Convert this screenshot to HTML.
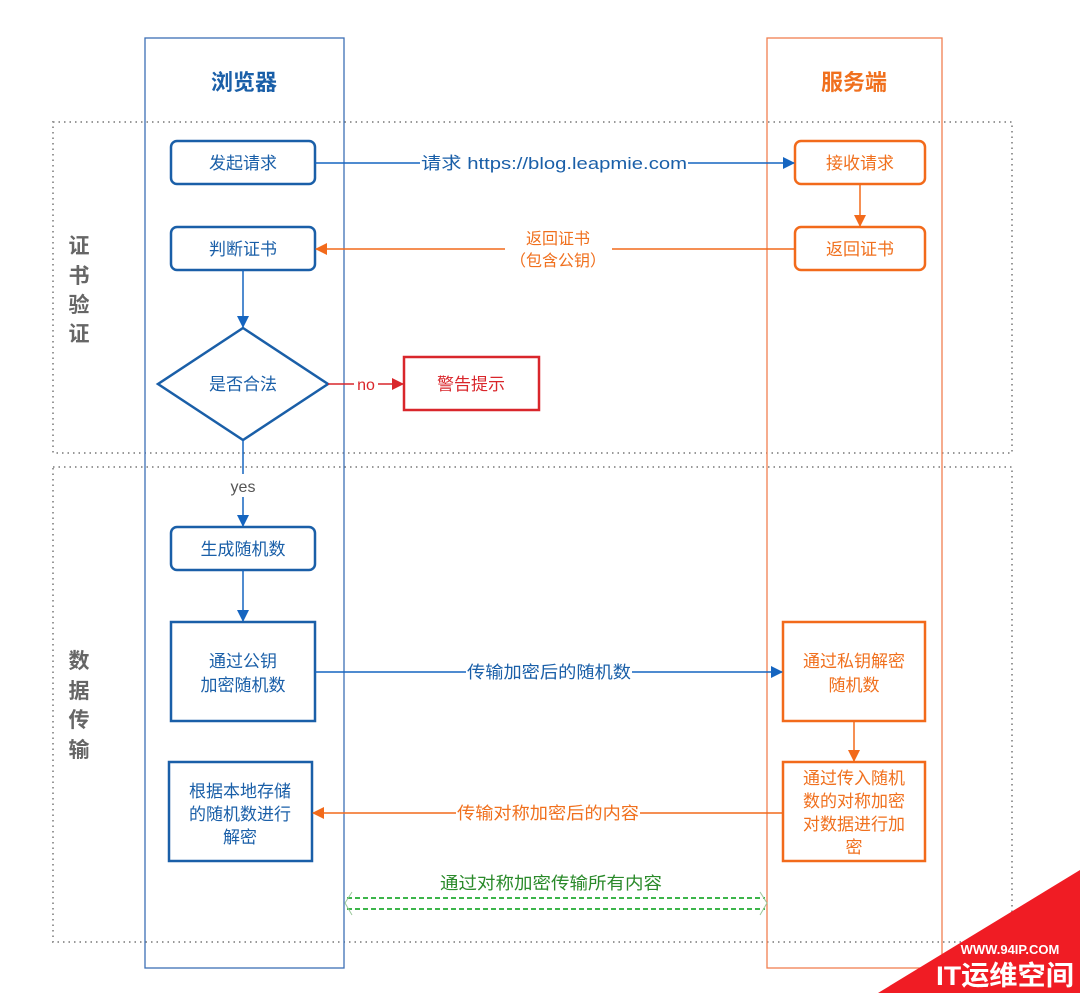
<!DOCTYPE html>
<html><head><meta charset="utf-8"><style>
html,body{margin:0;padding:0;background:#fff;}
svg{display:block;}
text{font-family:"Liberation Sans","Noto Sans CJK SC",sans-serif;}
</style></head><body>
<svg width="1080" height="993" viewBox="0 0 1080 993" xmlns="http://www.w3.org/2000/svg">
<defs>
<marker id="ab" markerWidth="12" markerHeight="12" refX="11" refY="6" orient="auto" markerUnits="userSpaceOnUse"><path d="M0,0 L12,6 L0,12 z" fill="#1565c0"/></marker>
<marker id="ao" markerWidth="12" markerHeight="12" refX="11" refY="6" orient="auto" markerUnits="userSpaceOnUse"><path d="M0,0 L12,6 L0,12 z" fill="#f26a1b"/></marker>
<marker id="ar" markerWidth="12" markerHeight="12" refX="11" refY="6" orient="auto" markerUnits="userSpaceOnUse"><path d="M0,0 L12,6 L0,12 z" fill="#d9262b"/></marker>
</defs>
<rect x="53" y="122" width="959" height="331" fill="none" stroke="#999" stroke-width="2" stroke-dasharray="1.5,4"/>
<rect x="53" y="467" width="959" height="475" fill="none" stroke="#999" stroke-width="2" stroke-dasharray="1.5,4"/>
<rect x="145" y="38" width="199" height="930" fill="none" stroke="#3d6fb5" stroke-width="1.3"/>
<rect x="767" y="38" width="175" height="930" fill="none" stroke="#f08050" stroke-width="1.3"/>
<text x="244" y="90" font-size="22" font-weight="bold" fill="#1a5fa8" text-anchor="middle">浏览器</text>
<text x="854" y="90" font-size="22" font-weight="bold" fill="#f0701e" text-anchor="middle">服务端</text>
<g font-size="21" font-weight="bold" fill="#666" text-anchor="middle">
<text x="79" y="253">证</text><text x="79" y="283">书</text><text x="79" y="312">验</text><text x="79" y="341">证</text>
<text x="79" y="668">数</text><text x="79" y="698">据</text><text x="79" y="727">传</text><text x="79" y="757">输</text>
</g>
<g fill="#fff" stroke="#1a5fa8" stroke-width="2.5">
<rect x="171" y="141" width="144" height="43" rx="6"/>
<rect x="171" y="227" width="144" height="43" rx="6"/>
<polygon points="243,328 328,384 243,440 158,384"/>
<rect x="171" y="527" width="144" height="43" rx="6"/>
<rect x="171" y="622" width="144" height="99"/>
<rect x="169" y="762" width="143" height="99"/>
</g>
<rect x="404" y="357" width="135" height="53" fill="#fff" stroke="#d9262b" stroke-width="2.5"/>
<g fill="#fff" stroke="#f26a1b" stroke-width="2.5">
<rect x="795" y="141" width="130" height="43" rx="6"/>
<rect x="795" y="227" width="130" height="43" rx="6"/>
<rect x="783" y="622" width="142" height="99"/>
<rect x="783" y="762" width="142" height="99"/>
</g>
<g font-size="17" fill="#1a5fa8" text-anchor="middle">
<text x="243" y="169">发起请求</text>
<text x="243" y="255">判断证书</text>
<text x="243" y="390">是否合法</text>
<text x="243" y="555">生成随机数</text>
<text x="243" y="667">通过公钥</text><text x="243" y="691">加密随机数</text>
<text x="240" y="797">根据本地存储</text><text x="240" y="820">的随机数进行</text><text x="240" y="843">解密</text>
</g>
<text x="471" y="390" font-size="17" fill="#d9262b" text-anchor="middle">警告提示</text>
<g font-size="17" fill="#f0701e" text-anchor="middle">
<text x="860" y="169">接收请求</text>
<text x="860" y="255">返回证书</text>
<text x="854" y="667">通过私钥解密</text><text x="854" y="691">随机数</text>
<text x="854" y="784">通过传入随机</text><text x="854" y="807">数的对称加密</text><text x="854" y="830">对数据进行加</text><text x="854" y="853">密</text>
</g>
<g stroke-width="1.5" fill="none">
<line x1="315" y1="163" x2="420" y2="163" stroke="#1565c0"/>
<line x1="688" y1="163" x2="794" y2="163" stroke="#1565c0" marker-end="url(#ab)"/>
<line x1="860" y1="184" x2="860" y2="226" stroke="#f26a1b" marker-end="url(#ao)"/>
<line x1="795" y1="249" x2="612" y2="249" stroke="#f26a1b"/>
<line x1="505" y1="249" x2="316" y2="249" stroke="#f26a1b" marker-end="url(#ao)"/>
<line x1="243" y1="270" x2="243" y2="327" stroke="#1565c0" marker-end="url(#ab)"/>
<line x1="328" y1="384" x2="354" y2="384" stroke="#d9262b"/>
<line x1="378" y1="384" x2="403" y2="384" stroke="#d9262b" marker-end="url(#ar)"/>
<line x1="243" y1="440" x2="243" y2="474" stroke="#1565c0"/>
<line x1="243" y1="497" x2="243" y2="526" stroke="#1565c0" marker-end="url(#ab)"/>
<line x1="243" y1="570" x2="243" y2="621" stroke="#1565c0" marker-end="url(#ab)"/>
<line x1="315" y1="672" x2="466" y2="672" stroke="#1565c0"/>
<line x1="632" y1="672" x2="782" y2="672" stroke="#1565c0" marker-end="url(#ab)"/>
<line x1="854" y1="721" x2="854" y2="761" stroke="#f26a1b" marker-end="url(#ao)"/>
<line x1="783" y1="813" x2="640" y2="813" stroke="#f26a1b"/>
<line x1="456" y1="813" x2="313" y2="813" stroke="#f26a1b" marker-end="url(#ao)"/>
</g>
<text x="421" y="169" font-size="17" fill="#1a5fa8" textLength="266" lengthAdjust="spacingAndGlyphs">请求 https://blog.leapmie.com</text>
<text x="558" y="244" font-size="16" fill="#f0701e" text-anchor="middle">返回证书</text>
<text x="558" y="266" font-size="16" fill="#f0701e" text-anchor="middle">（包含公钥）</text>
<text x="366" y="390" font-size="16" fill="#d9262b" text-anchor="middle">no</text>
<text x="243" y="492" font-size="16" fill="#555" text-anchor="middle">yes</text>
<text x="467" y="678" font-size="17" fill="#1a5fa8" textLength="164" lengthAdjust="spacingAndGlyphs">传输加密后的随机数</text>
<text x="457" y="819" font-size="17" fill="#f0701e" textLength="182" lengthAdjust="spacingAndGlyphs">传输对称加密后的内容</text>
<text x="440" y="889" font-size="17" fill="#2a8a2a" textLength="222" lengthAdjust="spacingAndGlyphs">通过对称加密传输所有内容</text>
<g stroke="#3cb54a" stroke-width="2" stroke-dasharray="5,3" fill="none">
<line x1="347" y1="898" x2="765" y2="898"/>
<line x1="347" y1="909" x2="765" y2="909"/>
</g>
<g stroke="#9ac79a" stroke-width="1" fill="none">
<polyline points="352,892 345,903 352,915"/>
<polyline points="760,892 767,903 760,915"/>
</g>
<polygon points="878,993 1080,870 1080,993" fill="#f01c24"/>
<text x="1010" y="954" font-size="13" font-weight="bold" fill="#fff" text-anchor="middle" font-family="Liberation Serif, serif">WWW.94IP.COM</text>
<text x="936" y="985" font-size="27" font-weight="bold" fill="#fff" textLength="138" lengthAdjust="spacingAndGlyphs">IT运维空间</text>
</svg>
</body></html>
